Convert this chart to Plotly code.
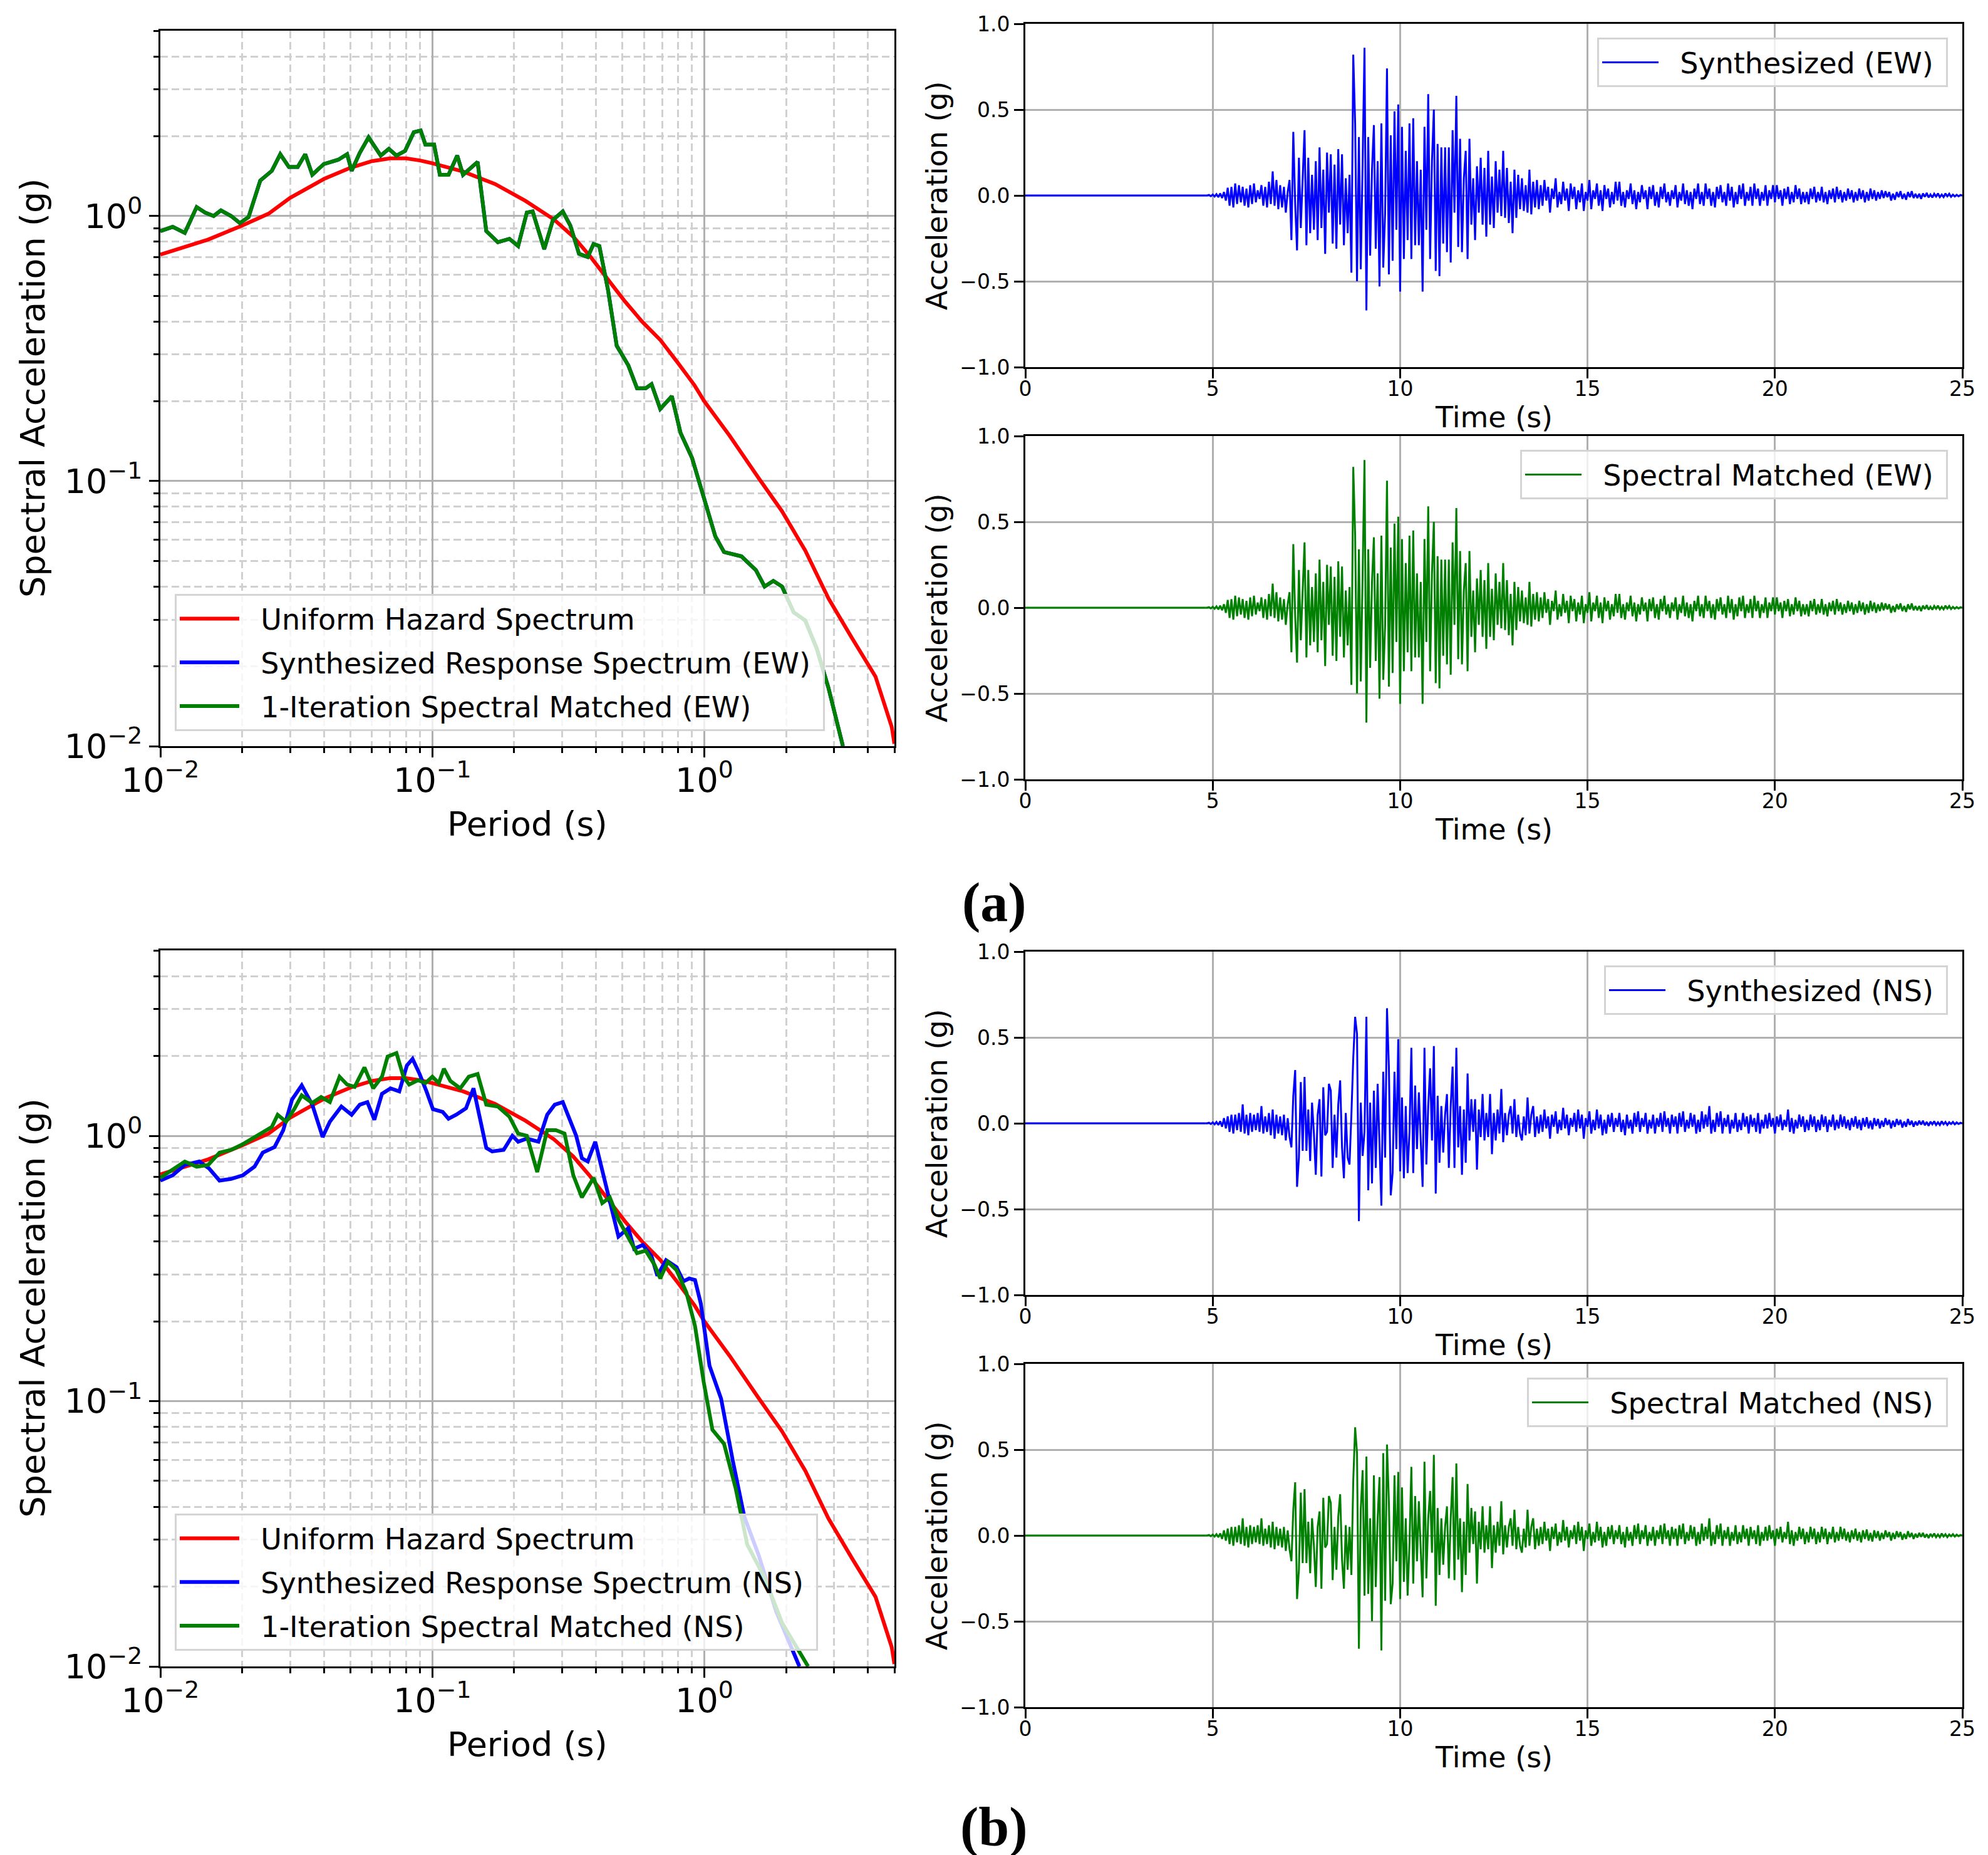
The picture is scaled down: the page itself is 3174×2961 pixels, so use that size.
import plotly.graph_objects as go

# ---------------- response spectra (period in s, Sa in g) ----------------
uhs_period = [0.01, 0.015, 0.02, 0.025, 0.03, 0.04, 0.05, 0.06, 0.07, 0.08, 0.09, 0.1,
              0.13, 0.17, 0.22, 0.28, 0.33, 0.38, 0.44, 0.51, 0.59, 0.69, 0.8, 0.92,
              1.0, 1.24, 1.58, 1.93, 2.35, 2.86, 3.48, 4.26, 4.89, 5.0]
uhs_sa = [0.715, 0.815, 0.92, 1.02, 1.17, 1.38, 1.52, 1.61, 1.65, 1.65, 1.62, 1.58,
          1.47, 1.32, 1.14, 0.97, 0.835, 0.705, 0.58, 0.477, 0.40, 0.34, 0.279, 0.23,
          0.20, 0.148, 0.103, 0.077, 0.0547, 0.0361, 0.0257, 0.0183, 0.0118, 0.0102]

ew_period = [0.01, 0.0111, 0.0123, 0.0136, 0.0146, 0.0157, 0.0167, 0.0182, 0.0196, 0.0211,
             0.0233, 0.0257, 0.0276, 0.0297, 0.032, 0.0341, 0.0362, 0.0399, 0.0451, 0.0486,
             0.0505, 0.0541, 0.0583, 0.0646, 0.0692, 0.0738, 0.0794, 0.0855, 0.0906, 0.0943,
             0.1015, 0.1066, 0.1147, 0.1235, 0.1297, 0.1396, 0.1467, 0.1579, 0.1742, 0.1921,
             0.2068, 0.2226, 0.2338, 0.2579, 0.2777, 0.3018, 0.3217, 0.3463, 0.3727, 0.3916,
             0.4112, 0.4426, 0.4764, 0.5257, 0.5658, 0.609, 0.6397, 0.6887, 0.7596, 0.8177,
             0.902, 0.995, 1.098, 1.182, 1.369, 1.548, 1.666, 1.794, 1.931, 2.13,
             2.35, 2.592, 2.86, 3.233]
ew_sa = [0.877, 0.91, 0.864, 1.08, 1.03, 1.0, 1.05, 1.0, 0.94, 0.99,
         1.36, 1.48, 1.71, 1.53, 1.53, 1.71, 1.43, 1.57, 1.63, 1.71,
         1.48, 1.73, 1.98, 1.69, 1.79, 1.69, 1.76, 2.07, 2.10, 1.86,
         1.86, 1.43, 1.43, 1.69, 1.43, 1.53, 1.60, 0.877, 0.796, 0.82,
         0.77, 1.03, 1.04, 0.75, 0.967, 1.04, 0.92, 0.72, 0.70, 0.784,
         0.77, 0.526, 0.324, 0.273, 0.224, 0.224, 0.232, 0.187, 0.209, 0.152,
         0.122, 0.0869, 0.0618, 0.054, 0.052, 0.0461, 0.040, 0.042, 0.040, 0.032,
         0.0298, 0.0233, 0.0166, 0.01]

ns_syn_period = [0.01, 0.0111, 0.0123, 0.0139, 0.0151, 0.0165, 0.0182, 0.0201, 0.0222, 0.0238,
                 0.0263, 0.0283, 0.0305, 0.0331, 0.0362, 0.0395, 0.042, 0.0463, 0.0505, 0.0541,
                 0.0577, 0.0612, 0.0653, 0.0702, 0.0756, 0.0806, 0.0846, 0.0898, 0.0952, 0.1005,
                 0.1092, 0.1147, 0.1223, 0.133, 0.1417, 0.1489, 0.1579, 0.1659, 0.1829, 0.1969,
                 0.2068, 0.2226, 0.2455, 0.2644, 0.2818, 0.3018, 0.3217, 0.338, 0.3548, 0.3727,
                 0.3972, 0.4214, 0.4537, 0.4835, 0.5257, 0.552, 0.5943, 0.6397, 0.672, 0.7233,
                 0.79, 0.838, 0.88, 0.9244, 0.971, 1.045, 1.153, 1.272, 1.403, 1.586,
                 1.838, 2.237]
ns_syn_sa = [0.678, 0.71, 0.777, 0.80, 0.754, 0.678, 0.688, 0.71, 0.765, 0.864,
             0.907, 1.05, 1.37, 1.55, 1.31, 0.99, 1.13, 1.29, 1.20, 1.31,
             1.34, 1.15, 1.44, 1.51, 1.47, 1.84, 1.95, 1.71, 1.47, 1.26,
             1.23, 1.16, 1.20, 1.27, 1.51, 1.21, 0.9, 0.873, 0.885, 1.0,
             0.95, 0.976, 0.95, 1.20, 1.31, 1.34, 1.13, 1.0, 0.823, 0.80,
             0.95, 0.747, 0.558, 0.417, 0.449, 0.375, 0.388, 0.352, 0.297, 0.34,
             0.32, 0.283, 0.29, 0.286, 0.233, 0.136, 0.102, 0.0598, 0.0367, 0.0262,
             0.0161, 0.01]

ns_mat_period = [0.01, 0.0111, 0.0123, 0.0136, 0.015, 0.0165, 0.0182, 0.0201, 0.0233, 0.0257,
                 0.027, 0.029, 0.0312, 0.0331, 0.0362, 0.039, 0.042, 0.0456, 0.0486, 0.0518,
                 0.0563, 0.0606, 0.0653, 0.0685, 0.0738, 0.0783, 0.0822, 0.0885, 0.0943, 0.1,
                 0.1056, 0.1103, 0.1165, 0.1266, 0.1362, 0.1467, 0.1579, 0.1742, 0.1921, 0.2068,
                 0.2226, 0.2431, 0.2644, 0.2846, 0.3063, 0.3297, 0.3548, 0.3916, 0.4214, 0.4493,
                 0.4835, 0.5257, 0.5658, 0.609, 0.6556, 0.6887, 0.734, 0.79, 0.859, 0.9244,
                 0.995, 1.071, 1.182, 1.304, 1.438, 1.666, 1.931, 2.408]
ns_mat_sa = [0.695, 0.747, 0.80, 0.765, 0.777, 0.864, 0.885, 0.93, 1.02, 1.08,
             1.20, 1.13, 1.27, 1.42, 1.33, 1.40, 1.34, 1.67, 1.56, 1.53,
             1.81, 1.51, 1.67, 1.99, 2.05, 1.67, 1.56, 1.62, 1.58, 1.67,
             1.58, 1.79, 1.61, 1.51, 1.67, 1.71, 1.31, 1.29, 1.18, 1.02,
             1.0, 0.73, 1.05, 1.05, 1.02, 0.711, 0.586, 0.695, 0.558, 0.586,
             0.483, 0.417, 0.361, 0.369, 0.327, 0.29, 0.335, 0.312, 0.257, 0.192,
             0.118, 0.078, 0.069, 0.0469, 0.0288, 0.0216, 0.0146, 0.01]

# ---------------- acceleration histories (g), one value every 0.05 s from 4.8 s ----------------
acc_t0 = 4.8
acc_dt = 0.05
quiet_time = [0.0, 4.8]
quiet_acc = [0.0, 0.0]

ew_acc = [
    0.0, 0.0, 0.003, -0.004, 0.005, -0.006, 0.008, -0.01, 0.012, -0.015, 0.02, -0.03, 0.045, -0.06, 0.05, -0.07, 0.07, -0.05, 0.06, -0.04,
    0.05, -0.06, 0.04, -0.07, 0.06, -0.05, 0.07, -0.04, 0.03, -0.02, 0.06, -0.06, 0.05, -0.07, 0.08, -0.05, 0.14, -0.06, 0.09, -0.08,
    0.06, -0.07, 0.05, -0.1, 0.02, 0.09, -0.26, 0.37, -0.05, -0.32, 0.22, -0.19, 0.1, 0.38, -0.29, 0.22, -0.22, 0.12, -0.2, 0.2,
    -0.26, 0.28, -0.19, 0.15, -0.34, 0.25, -0.1, 0.24, -0.28, 0.18, -0.31, 0.27, -0.17, 0.24, -0.29, 0.1, -0.22, 0.12, -0.45, 0.82,
    0.42, -0.5, 0.34, -0.43, 0.2, 0.86, -0.67, 0.34, -0.35, 0.15, 0.41, -0.31, 0.2, -0.53, 0.42, -0.42, -0.1, 0.74, -0.46, 0.35,
    -0.38, 0.49, -0.2, 0.53, -0.56, 0.4, -0.37, 0.26, -0.26, 0.42, -0.37, 0.45, -0.29, 0.2, -0.29, 0.15, -0.56, 0.4, -0.2, 0.59,
    -0.37, 0.2, 0.5, -0.44, 0.3, -0.47, 0.28, -0.28, 0.28, -0.33, 0.28, -0.39, 0.38, -0.1, 0.58, -0.3, 0.33, -0.33, 0.1, 0.26,
    -0.37, 0.33, -0.17, 0.1, -0.26, 0.17, -0.1, 0.22, -0.17, 0.16, -0.24, 0.26, -0.17, 0.11, -0.19, 0.2, -0.1, 0.15, -0.12, 0.26,
    -0.13, 0.16, -0.16, 0.08, -0.22, 0.15, -0.13, 0.12, -0.08, 0.1, -0.09, 0.06, -0.1, 0.15, -0.11, 0.08, -0.07, 0.09, -0.08, 0.06,
    -0.06, 0.09, -0.03, 0.05, -0.1, 0.04, -0.02, 0.1, -0.07, 0.02, -0.05, 0.08, -0.03, 0.04, -0.09, 0.07, -0.02, 0.05, -0.08, 0.03,
    -0.04, 0.07, -0.09, 0.02, -0.03, 0.09, -0.08, 0.03, -0.02, 0.07, -0.06, 0.03, -0.09, 0.06, -0.02, 0.04, -0.07, 0.02, -0.05, 0.08,
    -0.03, 0.08, -0.06, 0.02, -0.07, 0.03, -0.02, 0.07, -0.05, 0.03, -0.08, 0.02, -0.04, 0.06, -0.02, 0.03, -0.08, 0.05, -0.02, 0.06,
    -0.06, 0.02, -0.07, 0.05, -0.02, 0.07, -0.04, 0.02, -0.06, 0.03, -0.02, 0.06, -0.07, 0.02, -0.03, 0.07, -0.05, 0.03, -0.06, 0.02,
    -0.08, 0.04, -0.02, 0.07, -0.05, 0.02, -0.06, 0.07, -0.02, 0.04, -0.06, 0.02, -0.07, 0.05, -0.02, 0.06, -0.04, 0.02, -0.06, 0.07,
    -0.03, 0.05, -0.07, 0.02, -0.05, 0.06, -0.02, 0.07, -0.06, 0.02, -0.03, 0.05, -0.06, 0.07, -0.02, 0.04, -0.06, 0.02, -0.03, 0.06,
    -0.06, 0.03, -0.02, 0.06, -0.04, 0.06, -0.02, 0.03, -0.06, 0.04, -0.02, 0.05, -0.05, 0.02, -0.04, 0.06, -0.02, 0.04, -0.05, 0.02,
    -0.04, 0.02, -0.05, 0.04, -0.02, 0.05, -0.04, 0.02, -0.03, 0.05, -0.04, 0.02, -0.05, 0.03, -0.02, 0.04, -0.04, 0.05, -0.02, 0.03,
    -0.04, 0.02, -0.03, 0.04, -0.02, 0.03, -0.04, 0.02, -0.03, 0.04, -0.02, 0.03, -0.04, 0.02, -0.03, 0.04, -0.02, 0.03, -0.03, 0.02,
    -0.02, 0.03, -0.015, 0.025, -0.01, 0.02, -0.03, 0.01, -0.025, 0.02, -0.01, 0.025, -0.02, 0.01, -0.025, 0.02, -0.01, 0.025, -0.015, 0.01,
    -0.015, 0.01, -0.02, 0.012, -0.008, 0.015, -0.012, 0.006, -0.012, 0.01, -0.006, 0.012, -0.01, 0.005, -0.01, 0.012, -0.005, 0.01, -0.008, 0.005,
    -0.006, 0.004, -0.005, 0.003, 0.0,
]

ns_syn_strong = [
    0.0, 0.0, 0.003, -0.004, 0.005, -0.006, 0.008, -0.01, 0.012, -0.02, 0.03, -0.03, 0.04, -0.05, 0.05, -0.06, 0.05, -0.04, 0.06, -0.05,
    0.11, -0.06, 0.05, -0.07, 0.06, -0.05, 0.05, -0.04, 0.06, -0.05, 0.1, -0.06, 0.04, -0.05, 0.06, -0.07, 0.08, -0.09, 0.05, -0.06,
    0.04, -0.07, 0.05, -0.1, 0.03, -0.08, -0.14, 0.16, 0.31, -0.37, -0.2, 0.24, -0.16, 0.27, -0.16, 0.08, -0.22, 0.12, -0.06, -0.3,
    0.05, 0.14, -0.31, 0.21, -0.07, -0.05, 0.23, 0.19, -0.26, 0.05, -0.2, 0.11, 0.25, -0.14, -0.32, 0.06, -0.2, -0.24, 0.05, 0.38,
    0.62, 0.52, -0.57, 0.12, -0.19, -0.05, 0.62, -0.39, 0.12, -0.35, 0.19, -0.26, 0.23, -0.1, -0.48, 0.3, -0.2, 0.67, 0.33, -0.42,
    -0.29, 0.3, -0.15, 0.49, -0.28, 0.15, -0.32, 0.1, -0.29, -0.05, 0.44, -0.29, 0.22, -0.15, 0.18, -0.1, -0.37, 0.44, -0.24, 0.1,
    0.32, -0.1, 0.45, -0.41, 0.16, -0.23, 0.1, -0.17, 0.05, 0.17, -0.26, 0.1, 0.33, -0.26, 0.44, -0.14, 0.1, -0.3, 0.08, -0.23,
    0.29, -0.1, 0.14, -0.05, 0.14, -0.27, 0.08, -0.08, 0.17, -0.1, 0.06, -0.08, 0.17, -0.18, 0.06, -0.1, 0.08, -0.06, 0.2, -0.11,
    0.06, -0.07, 0.05, 0.1, -0.06, 0.14, -0.08, 0.05, -0.06, -0.1, 0.04, -0.07, 0.15, -0.06, 0.05, 0.1, -0.08, 0.04, -0.06, 0.05,
]

ns_mat_strong = [
    0.0, 0.0, 0.003, -0.004, 0.005, -0.006, 0.008, -0.01, 0.012, -0.02, 0.03, -0.03, 0.04, -0.05, 0.05, -0.06, 0.05, -0.04, 0.06, -0.05,
    0.1, -0.06, 0.05, -0.07, 0.06, -0.05, 0.05, -0.04, 0.06, -0.05, 0.1, -0.06, 0.04, -0.05, 0.06, -0.07, 0.08, -0.08, 0.05, -0.06,
    0.04, -0.07, 0.05, -0.09, 0.03, -0.08, -0.15, 0.15, 0.31, -0.37, -0.2, 0.25, -0.16, 0.27, -0.16, 0.08, -0.22, 0.1, -0.06, -0.3,
    0.05, 0.14, -0.31, 0.22, -0.07, -0.05, 0.23, 0.19, -0.26, 0.05, -0.2, 0.11, 0.24, -0.14, -0.31, 0.06, -0.2, 0.05, -0.23, 0.32,
    0.63, 0.48, -0.66, 0.15, 0.38, -0.35, 0.46, -0.34, 0.1, -0.5, 0.35, -0.3, 0.1, 0.34, -0.67, 0.48, -0.38, 0.53, 0.2, -0.4,
    -0.28, 0.35, -0.15, 0.37, -0.37, 0.28, -0.27, 0.1, -0.35, -0.05, 0.4, -0.28, 0.23, -0.15, 0.2, -0.1, -0.36, 0.43, -0.25, 0.1,
    0.26, -0.1, 0.47, -0.41, 0.16, -0.23, 0.1, -0.17, 0.05, 0.17, -0.25, 0.1, 0.34, -0.26, 0.42, -0.14, 0.1, -0.33, 0.08, -0.23,
    0.3, -0.1, 0.16, -0.05, 0.14, -0.28, 0.08, -0.08, 0.17, -0.1, 0.06, -0.08, 0.17, -0.19, 0.06, -0.1, 0.08, -0.06, 0.2, -0.11,
    0.06, -0.07, 0.05, 0.1, -0.06, 0.15, -0.08, 0.05, -0.06, -0.1, 0.04, -0.07, 0.15, -0.06, 0.05, 0.1, -0.08, 0.04, -0.06, 0.05,
]

ns_tail = [
    -0.05, 0.08, -0.03, 0.04, -0.09, 0.05, -0.02, 0.07, -0.06, 0.02, -0.04, 0.09, -0.03, 0.05, -0.07, 0.03, -0.02, 0.06, -0.05, 0.08,
    -0.03, 0.05, -0.09, 0.03, -0.02, 0.07, -0.06, 0.02, -0.04, 0.08, -0.03, 0.05, -0.07, 0.02, -0.06, 0.05, -0.02, 0.06, -0.05, 0.03,
    -0.02, 0.06, -0.05, 0.02, -0.07, 0.05, -0.03, 0.02, -0.06, 0.06, -0.02, 0.07, -0.05, 0.03, -0.02, 0.06, -0.06, 0.02, -0.03, 0.05,
    -0.06, 0.03, -0.02, 0.06, -0.05, 0.07, -0.02, 0.03, -0.06, 0.05, -0.02, 0.04, -0.06, 0.06, -0.02, 0.07, -0.05, 0.02, -0.03, 0.06,
    -0.02, 0.05, -0.06, 0.02, -0.05, 0.07, -0.03, 0.05, -0.02, 0.1, -0.06, 0.02, -0.05, 0.06, -0.02, 0.07, -0.06, 0.03, -0.02, 0.05,
    -0.06, 0.02, -0.03, 0.06, -0.05, 0.02, -0.04, 0.06, -0.02, 0.04, -0.06, 0.05, -0.02, 0.03, -0.05, 0.06, -0.06, 0.02, -0.03, 0.05,
    -0.03, 0.06, -0.02, 0.03, -0.06, 0.04, -0.02, 0.05, -0.04, 0.02, -0.02, 0.08, -0.05, 0.03, -0.06, 0.02, -0.03, 0.05, -0.02, 0.04,
    -0.05, 0.02, -0.04, 0.05, -0.02, 0.04, -0.05, 0.02, -0.04, 0.05, -0.02, 0.04, -0.05, 0.02, -0.02, 0.05, -0.04, 0.02, -0.03, 0.05,
    -0.02, 0.04, -0.03, 0.02, -0.04, 0.03, -0.02, 0.04, -0.03, 0.02, -0.04, 0.03, -0.02, 0.035, -0.03, 0.015, -0.035, 0.03, -0.015, 0.025,
    -0.03, 0.015, -0.02, 0.03, -0.01, 0.02, -0.03, 0.015, -0.02, 0.025, -0.01, 0.02, -0.025, 0.01, -0.02, 0.025, -0.01, 0.015, -0.02, 0.01,
    -0.012, 0.015, -0.008, 0.015, -0.012, 0.008, -0.015, 0.01, -0.006, 0.012, -0.01, 0.006, -0.01, 0.012, -0.006, 0.008, -0.01, 0.006, -0.004, 0.008,
    -0.006, 0.005, -0.004, 0.003, 0.0,
]
ns_syn_acc = ns_syn_strong + ns_tail
ns_mat_acc = ns_mat_strong + ns_tail

# ---------------- ticks ----------------
log_ticks = [0.01, 0.1, 1]
log_ticktext = ["10<sup>\u22122</sup>", "10<sup>\u22121</sup>", "10<sup>0</sup>"]
log_minor = [0.02, 0.03, 0.04, 0.05, 0.06, 0.07, 0.08, 0.09,
             0.2, 0.3, 0.4, 0.5, 0.6, 0.7, 0.8, 0.9, 2, 3, 4, 5]
time_ticks = [0, 5, 10, 15, 20, 25]
acc_ticks = [-1.0, -0.5, 0.0, 0.5, 1.0]

W, H = 3174, 2961
FONT = "DejaVu Sans"
GRID = "#b0b0b0"
NB = "\u00a0"  # padding around legend texts


def dom_x(l, r):
    return [l / W, r / W]


def dom_y(t, b):
    return [1 - b / H, 1 - t / H]


def frame_axis(**kw):
    d = dict(showline=True, linecolor="black", linewidth=3, mirror=True,
             ticks="outside", ticklen=15, tickwidth=3, tickcolor="black",
             showgrid=True, gridcolor=GRID, gridwidth=3, zeroline=False,
             automargin=False)
    d.update(kw)
    return d


def log_axis(domain, anchor, standoff):
    return frame_axis(type="log", domain=domain, anchor=anchor,
                      range=[-2, 0.69897], tickmode="array", tickvals=log_ticks,
                      ticktext=log_ticktext, tickfont=dict(size=54),
                      ticklabelstandoff=standoff,
                      minor=dict(tickmode="array", tickvals=log_minor, ticks="outside",
                                 ticklen=8, tickwidth=2.5, tickcolor="black",
                                 showgrid=True, gridcolor="#d0d0d0", gridwidth=2.5,
                                 griddash="12px,6px"))


def time_axes(domain_x, domain_y, anchor_x, anchor_y):
    xa = frame_axis(domain=domain_x, anchor=anchor_y, range=[0, 25],
                    tickmode="array", tickvals=time_ticks, tickfont=dict(size=33),
                    ticklabelstandoff=-12)
    ya = frame_axis(domain=domain_y, anchor=anchor_x, range=[-1, 1],
                    tickmode="array", tickvals=acc_ticks, tickformat=".1f",
                    tickfont=dict(size=33))
    return xa, ya


# panel boxes in px: left, top, right, bottom
spec_boxes = {"a": (248, 41, 1420, 1183), "b": (248, 1509, 1420, 2652)}
time_boxes = {
    "a1": (1629, 30, 3125, 578), "a2": (1629, 688, 3125, 1236),
    "b1": (1629, 1511, 3125, 2059), "b2": (1629, 2169, 3125, 2717),
}

fig = go.Figure()

# spectra, row (a) on x/y, row (b) on x4/y4
spec_rows = [
    ("a", "x", "y", "legend", ew_period, ew_sa, ew_period, ew_sa, "EW"),
    ("b", "x4", "y4", "legend4", ns_syn_period, ns_syn_sa, ns_mat_period, ns_mat_sa, "NS"),
]
for key, xr, yr, leg, sp, ss, mp, ms, comp in spec_rows:
    entries = [
        (uhs_period, uhs_sa, "#ff0000", "Uniform Hazard Spectrum"),
        (sp, ss, "#0000ff", "Synthesized Response Spectrum (%s)" % comp),
        (mp, ms, "#008000", "1-Iteration Spectral Matched (%s)" % comp),
    ]
    for px_, py_, col, name in entries:
        fig.add_trace(go.Scatter(x=px_, y=py_, mode="lines", name=NB * 2 + name + NB,
                                 legendgroup=key + name,
                                 line=dict(color=col, width=6), xaxis=xr, yaxis=yr, legend=leg))

# time histories
time_rows = [
    ("a1", "x2", "y2", "legend2", ew_acc, "#0000ff", "Synthesized (EW)"),
    ("a2", "x3", "y3", "legend3", ew_acc, "#008000", "Spectral Matched (EW)"),
    ("b1", "x5", "y5", "legend5", ns_syn_acc, "#0000ff", "Synthesized (NS)"),
    ("b2", "x6", "y6", "legend6", ns_mat_acc, "#008000", "Spectral Matched (NS)"),
]
for key, xr, yr, leg, acc, col, name in time_rows:
    fig.add_trace(go.Scatter(x=quiet_time, y=quiet_acc, mode="lines", showlegend=False,
                             line=dict(color=col, width=3), xaxis=xr, yaxis=yr))
    fig.add_trace(go.Scatter(y=acc, x0=acc_t0, dx=acc_dt, mode="lines", name=NB * 2 + name + NB,
                             line=dict(color=col, width=3), xaxis=xr, yaxis=yr, legend=leg))

layout = dict(width=W, height=H, margin=dict(l=0, r=0, t=0, b=0, autoexpand=False),
              paper_bgcolor="white", plot_bgcolor="white",
              font=dict(family=FONT, color="black"), showlegend=True)

for n, key in ((1, "a"), (4, "b")):
    l, t, r, b = spec_boxes[key]
    sfx = "" if n == 1 else str(n)
    layout["xaxis" + sfx] = log_axis(dom_x(l, r), "y" + sfx, -10)
    layout["yaxis" + sfx] = log_axis(dom_y(t, b), "x" + sfx, 0)

for n, key in ((2, "a1"), (3, "a2"), (5, "b1"), (6, "b2")):
    l, t, r, b = time_boxes[key]
    xa, ya = time_axes(dom_x(l, r), dom_y(t, b), "x%d" % n, "y%d" % n)
    layout["xaxis%d" % n] = xa
    layout["yaxis%d" % n] = ya

legend_box = dict(bgcolor="rgba(255,255,255,0.8)", bordercolor="#d4d4d4", borderwidth=3,
                  font=dict(family=FONT, size=46, color="black"))
layout["legend"] = dict(legend_box, x=271 / W, y=1 - 1159 / H, xanchor="left", yanchor="bottom",
                        itemwidth=95, tracegroupgap=7)
layout["legend4"] = dict(legend_box, x=271 / W, y=1 - 2627 / H, xanchor="left", yanchor="bottom",
                         itemwidth=95, tracegroupgap=7)
for n, key in ((2, "a1"), (3, "a2"), (5, "b1"), (6, "b2")):
    l, t, r, b = time_boxes[key]
    layout["legend%d" % n] = dict(legend_box, x=(r - 23) / W, y=1 - (t + 22) / H,
                                  xanchor="right", yanchor="top", itemwidth=90)

annotations = []


def label(text, x, y, size, angle=0, family=FONT):
    annotations.append(dict(text=text, x=x / W, y=1 - y / H, xref="paper", yref="paper",
                            showarrow=False, xanchor="center", yanchor="middle",
                            textangle=angle, font=dict(family=family, size=size, color="black")))


for key in ("a", "b"):
    l, t, r, b = spec_boxes[key]
    label("Spectral Acceleration (g)", 44, (t + b) / 2, 54, -90)
    label("Period (s)", (l + r) / 2, b + 124, 54)
for key in ("a1", "a2", "b1", "b2"):
    l, t, r, b = time_boxes[key]
    label("Acceleration (g)", 1488, (t + b) / 2, 46, -90)
    label("Time (s)", (l + r) / 2, b + 80, 46)
label("<b>(a)</b>", 1579, 1433, 88, family="Liberation Serif")
label("<b>(b)</b>", 1579, 2908, 88, family="Liberation Serif")
layout["annotations"] = annotations

fig.update_layout(layout)
fig.write_html("out.html")
